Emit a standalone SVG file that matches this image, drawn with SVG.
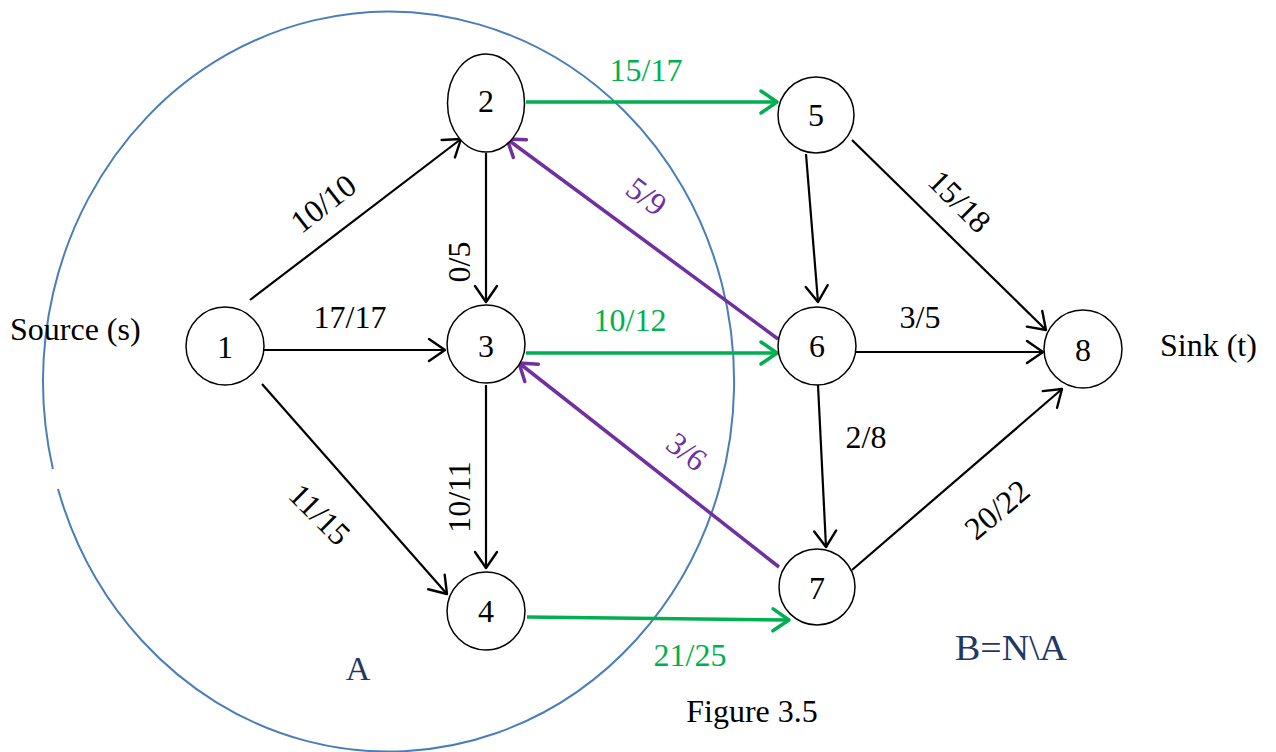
<svg xmlns="http://www.w3.org/2000/svg" width="1276" height="752" viewBox="0 0 1276 752">
  <style>
    .node { fill: #ffffff; stroke: #000000; stroke-width: 1.5; }
    .num { font-family: "Liberation Serif", "Times New Roman", serif; font-size: 32px; fill: #000000; text-anchor: middle; dominant-baseline: central; }
    .lbl { font-family: "Liberation Serif", "Times New Roman", serif; font-size: 32px; text-anchor: middle; }
    .k { fill: #000000; }
    .g { fill: #00b050; }
    .p { fill: #7030a0; }
    .navy { fill: #1f3864; }
    .e-black { stroke: #000000; stroke-width: 2.2; fill: none; marker-end: url(#ah-black); }
    .e-green { stroke: #00b050; stroke-width: 3.5; fill: none; marker-end: url(#ah-green); }
    .e-purple { stroke: #7030a0; stroke-width: 3.5; fill: none; marker-end: url(#ah-purple); }
  </style>
  <defs>
    <marker id="ah-black" markerUnits="userSpaceOnUse" viewBox="-18 -13 20 26" refX="0" refY="0" markerWidth="20" markerHeight="26" orient="auto" overflow="visible">
      <path d="M-16,-11 L0,0 L-16,11" fill="none" stroke="#000000" stroke-width="2.4" stroke-linecap="round" stroke-linejoin="round"/>
    </marker>
    <marker id="ah-green" markerUnits="userSpaceOnUse" viewBox="-18 -13 20 26" refX="0" refY="0" markerWidth="20" markerHeight="26" orient="auto" overflow="visible">
      <path d="M-16,-11 L0,0 L-16,11" fill="none" stroke="#00b050" stroke-width="3.5" stroke-linecap="round" stroke-linejoin="round"/>
    </marker>
    <marker id="ah-purple" markerUnits="userSpaceOnUse" viewBox="-18 -13 20 26" refX="0" refY="0" markerWidth="20" markerHeight="26" orient="auto" overflow="visible">
      <path d="M-16,-11 L0,0 L-16,11" fill="none" stroke="#7030a0" stroke-width="3.5" stroke-linecap="round" stroke-linejoin="round"/>
    </marker>
  </defs>

  <rect width="1276" height="752" fill="#ffffff"/>

  <!-- cut set A: open ellipse with a small break on the left -->
  <path id="cut-A" d="M 58 489 A 345.5 370 0 1 0 52.9 469" fill="none" stroke="#4a7ebb" stroke-width="2"/>

  <!-- connectors -->
  <g id="connectors">
    <line class="e-black" x1="250" y1="300" x2="461" y2="139"/>
    <line class="e-black" x1="264" y1="350" x2="445" y2="350"/>
    <line class="e-black" x1="262" y1="384" x2="447" y2="594"/>
    <line class="e-black" x1="486" y1="153" x2="486" y2="302"/>
    <line class="e-black" x1="486" y1="385" x2="486" y2="568"/>
    <line class="e-green" x1="526" y1="102" x2="777" y2="102"/>
    <line class="e-green" x1="526" y1="353" x2="777" y2="353"/>
    <line class="e-green" x1="527" y1="617" x2="789" y2="620"/>
    <line class="e-purple" x1="778" y1="339" x2="507" y2="139"/>
    <line class="e-purple" x1="779" y1="567" x2="519" y2="363"/>
    <line class="e-black" x1="806" y1="154" x2="818" y2="302"/>
    <line class="e-black" x1="852" y1="140" x2="1046" y2="330"/>
    <line class="e-black" x1="856" y1="352" x2="1043" y2="352"/>
    <line class="e-black" x1="818" y1="385" x2="826" y2="547"/>
    <line class="e-black" x1="852" y1="570" x2="1062" y2="389"/>
  </g>

  <!-- edge labels -->
  <g id="edge-labels">
    <text class="lbl k" transform="translate(330,212) rotate(-38)">10/10</text>
    <text class="lbl k" x="350" y="328">17/17</text>
    <text class="lbl k" transform="translate(312,522) rotate(45)">11/15</text>
    <text class="lbl k" transform="translate(470,262) rotate(-90)">0/5</text>
    <text class="lbl k" transform="translate(470,497) rotate(-90)">10/11</text>
    <text class="lbl g" x="646" y="81">15/17</text>
    <text class="lbl g" x="630" y="331">10/12</text>
    <text class="lbl g" x="690" y="666">21/25</text>
    <text class="lbl p" transform="translate(640,205) rotate(37)">5/9</text>
    <text class="lbl p" transform="translate(680,460) rotate(38)">3/6</text>
    <text class="lbl k" transform="translate(952,209) rotate(45)">15/18</text>
    <text class="lbl k" x="920" y="328">3/5</text>
    <text class="lbl k" x="866" y="448">2/8</text>
    <text class="lbl k" transform="translate(1004,518) rotate(-40)">20/22</text>
  </g>

  <!-- nodes -->
  <g id="node-1"><circle class="node" cx="225" cy="346" r="39"/><text class="num" x="225" y="347">1</text></g>
  <g id="node-2"><ellipse class="node" cx="486" cy="103" rx="38.5" ry="49"/><text class="num" x="486" y="101">2</text></g>
  <g id="node-3"><circle class="node" cx="486" cy="344" r="39"/><text class="num" x="486" y="346">3</text></g>
  <g id="node-4"><circle class="node" cx="486" cy="611" r="39"/><text class="num" x="486" y="611">4</text></g>
  <g id="node-5"><circle class="node" cx="816" cy="115" r="38"/><text class="num" x="816" y="115">5</text></g>
  <g id="node-6"><circle class="node" cx="817" cy="346" r="39"/><text class="num" x="817" y="346">6</text></g>
  <g id="node-7"><circle class="node" cx="817" cy="587" r="38"/><text class="num" x="817" y="588">7</text></g>
  <g id="node-8"><circle class="node" cx="1083" cy="349" r="39"/><text class="num" x="1083" y="350">8</text></g>

  <!-- captions -->
  <g id="captions">
    <text class="lbl k" x="10" y="340" style="text-anchor:start">Source (s)</text>
    <text class="lbl k" x="1160" y="356" style="text-anchor:start">Sink (t)</text>
    <text class="lbl navy" x="358" y="680" style="font-size:34px">A</text>
    <text class="lbl navy" x="1011" y="660" style="font-size:35px" textLength="112" lengthAdjust="spacingAndGlyphs">B=N\A</text>
    <text class="lbl k" x="752" y="722">Figure 3.5</text>
  </g>
</svg>
